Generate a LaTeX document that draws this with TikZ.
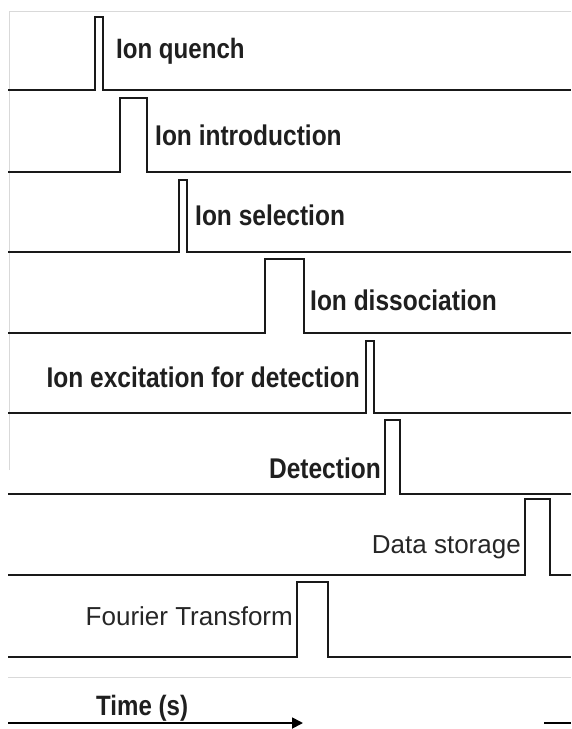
\documentclass[tikz,border=0pt]{standalone}
\usepackage{fontspec}
\setmainfont{Liberation Sans}
\usetikzlibrary{arrows.meta}
\newcommand\sqlab[3]{\scalebox{#1}[1]{\fontsize{#2}{#2}\selectfont #3}}
\begin{document}
\begin{tikzpicture}[x=1pt,y=-1pt,
  sig/.style={line width=1.8pt, line join=miter, draw=black!90},
  lbl/.style={font=\bfseries, inner sep=0pt, text=black!88},
  plainlbl/.style={inner sep=0pt, text=black!85},
  frame/.style={draw=black!15, line width=0.7pt}]
\useasboundingbox (0,0) rectangle (571,729);
% faint frame lines
\draw[frame] (9,470) -- (9,11) -- (571,11);
\draw[frame] (8,677) -- (571,677);
% row 1
\draw[sig] (8,90) -- (95,90) -- (95,17) -- (103,17) -- (103,90) -- (571,90);
\node[lbl, anchor=base west] (quench) at (116,58) {\sqlab{0.86}{28}{Ion quench}};
% row 2
\draw[sig] (8,172) -- (120,172) -- (120,98) -- (147,98) -- (147,172) -- (571,172);
\node[lbl, anchor=base west] (intro) at (155,145) {\sqlab{0.86}{28.5}{Ion introduction}};
% row 3
\draw[sig] (8,252) -- (179,252) -- (179,180) -- (187,180) -- (187,252) -- (571,252);
\node[lbl, anchor=base west] (select) at (195,225) {\sqlab{0.86}{28.5}{Ion selection}};
% row 4
\draw[sig] (8,333) -- (265,333) -- (265,259) -- (304,259) -- (304,333) -- (571,333);
\node[lbl, anchor=base west] (dissoc) at (310,310) {\sqlab{0.86}{28.5}{Ion dissociation}};
% row 5
\draw[sig] (8,413) -- (366,413) -- (366,341) -- (374,341) -- (374,413) -- (571,413);
\node[lbl, anchor=base east] (excite) at (360,387) {\sqlab{0.86}{28.5}{Ion excitation for detection}};
% row 6
\draw[sig] (8,494) -- (385,494) -- (385,420) -- (400,420) -- (400,494) -- (571,494);
\node[lbl, anchor=base east] (detect) at (381,478) {\sqlab{0.86}{28.5}{Detection}};
% row 7
\draw[sig] (8,575) -- (525,575) -- (525,499) -- (550,499) -- (550,575) -- (571,575);
\node[plainlbl, anchor=base east] (store) at (521,553) {\sqlab{1.0}{26}{Data storage}};
% row 8
\draw[sig] (8,657) -- (297,657) -- (297,582) -- (328,582) -- (328,657) -- (571,657);
\node[plainlbl, anchor=base east] (fft) at (293,625) {\sqlab{1.0}{26}{Fourier Transform}};
% time axis
\node[lbl, anchor=base west] (time) at (96,715) {\sqlab{0.86}{28}{Time (s)}};
\coordinate (t0) at (8,723);
\coordinate (t1) at (303,723);
\draw[line width=1.8pt, -{Triangle[length=11pt,width=11pt]}] (t0) -- (t1);
\coordinate (r0) at (544,723);
\coordinate (r1) at (571,723);
\draw[line width=1.8pt] (r0) -- (r1);
\end{tikzpicture}
\end{document}
